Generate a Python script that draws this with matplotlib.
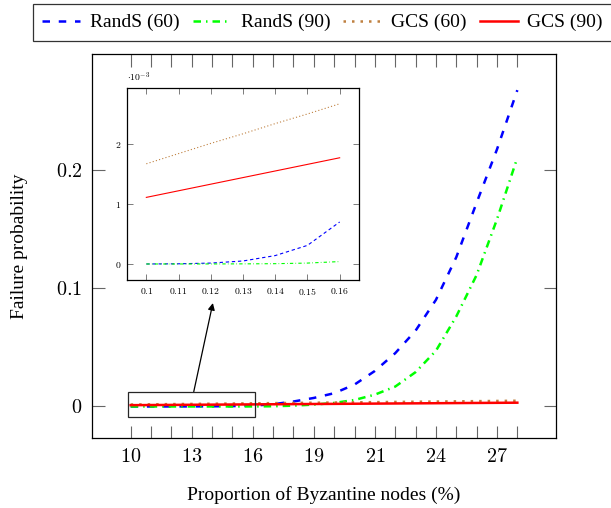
import numpy as np
import matplotlib
matplotlib.use('Agg')
import matplotlib.pyplot as plt
from matplotlib.patches import Rectangle

plt.rcParams['font.family'] = ['Liberation Serif', 'DejaVu Serif']
plt.rcParams['mathtext.fontset'] = 'cm'

# proportion of byzantine nodes, one point per tick
x = [10, 11, 12, 13, 14, 15, 16, 17, 18, 19, 20, 21, 22, 23, 24, 25, 26, 27, 28, 29]
xtick_pos = [10, 13, 16, 19, 22, 25, 28]
xtick_lab = ['10', '13', '16', '19', '21', '24', '27']

rands60 = [0.0, 0.000003, 0.000015, 0.00005, 0.00014, 0.00031, 0.0007, 0.0019, 0.0042, 0.0072,
           0.0112, 0.0185, 0.030, 0.045, 0.064, 0.090, 0.126, 0.172, 0.217, 0.267]
rands90 = [0.0, 0.0, 0.0000005, 0.000002, 0.000005, 0.000015, 0.00004, 0.0002, 0.0007, 0.0016,
           0.0030, 0.0055, 0.0100, 0.0168, 0.029, 0.047, 0.076, 0.111, 0.158, 0.210]
gcs60 = [0.00167, 0.00184, 0.00201, 0.00217, 0.00234, 0.00250, 0.00267, 0.00284, 0.00300, 0.00317,
         0.00334, 0.00350, 0.00367, 0.00384, 0.00400, 0.00417, 0.00434, 0.00450, 0.00467, 0.00484]
gcs90 = [0.00111, 0.00122, 0.00133, 0.00144, 0.00155, 0.00166, 0.00177, 0.00188, 0.00199, 0.00210,
         0.00221, 0.00232, 0.00243, 0.00254, 0.00265, 0.00276, 0.00287, 0.00298, 0.00309, 0.00320]

# inset: first 7 points, x as fraction
x_in = [0.10, 0.11, 0.12, 0.13, 0.14, 0.15, 0.16]
n_in = len(x_in)

blue = '#0000ff'
green = '#00ff00'
brown = '#bf8040'
red = '#ff0000'

fig = plt.figure(figsize=(6.11, 5.08), dpi=100)
ax = fig.add_axes([92/611, 1-438/508, 464/611, 384/508])

lw = 1.8
l1, = ax.plot(x, rands60, color=blue, lw=lw, dashes=(3, 3.5), label='RandS (60)')
l2, = ax.plot(x, rands90, color=green, lw=lw, dashes=(3, 2, 0.6, 2), label='RandS (90)')
l3, = ax.plot(x, gcs60, color=brown, lw=lw, dashes=(1, 2.4), label='GCS (60)')
l4, = ax.plot(x, gcs90, color=red, lw=lw, label='GCS (90)')

ax.set_xlim(8.1, 30.9)
ax.set_ylim(-0.0266, 0.2975)
ax.set_xticks(xtick_pos)
ax.set_xticklabels(['$%s$' % s for s in xtick_lab])
ax.set_xticks(x, minor=True)
ax.set_yticks([0, 0.1, 0.2])
ax.set_yticklabels(['$0$', '$0.1$', '$0.2$'])
ax.tick_params(which='both', direction='in', top=True, right=True, length=9, width=0.8,
               color='0.4', labelsize=14.5, pad=7)
for s in ax.spines.values():
    s.set_linewidth(0.9)

ax.set_xlabel('Proportion of Byzantine nodes (%)', fontsize=14, labelpad=14)
ax.set_ylabel('Failure probability', fontsize=14, labelpad=20)

# zoom box + arrow
ax.add_patch(Rectangle((9.88, -0.0086), 16.1-9.88, 0.0125+0.0086, fill=False, ec='0.15', lw=0.9, zorder=5))
ax.annotate('', xy=(14.04, 0.0873), xytext=(13.1, 0.0125),
            arrowprops=dict(arrowstyle='-|>', color='black', lw=0.9, mutation_scale=10, shrinkA=0, shrinkB=0))

# inset
axin = fig.add_axes([127/611, 1-280/508, 232/611, 192/508])
lwi = 0.8
axin.plot(x_in, rands60[:n_in], color=blue, lw=lwi, dashes=(3, 2.5))
axin.plot(x_in, rands90[:n_in], color=green, lw=lwi, dashes=(3, 2, 0.6, 2))
axin.plot(x_in, gcs60[:n_in], color=brown, lw=lwi, dashes=(1, 2))
axin.plot(x_in, gcs90[:n_in], color=red, lw=lwi)
axin.set_xlim(0.094, 0.166)
axin.set_ylim(-0.267e-3, 2.933e-3)
axin.set_xticks(x_in)
axin.set_xticklabels(['$%s$' % ('%.2f' % v).rstrip('0') for v in x_in])
axin.set_yticks([0, 1e-3, 2e-3])
axin.set_yticklabels(['$0$', '$1$', '$2$'])
axin.tick_params(which='both', direction='in', top=True, right=True, length=4, width=0.6,
                 color='0.4', labelsize=7, pad=4)
for s in axin.spines.values():
    s.set_linewidth(0.9)
axin.text(0.0, 1.02, r'$\cdot 10^{-3}$', transform=axin.transAxes, fontsize=7, ha='left', va='bottom')

leg = fig.legend(handles=[l1, l2, l3, l4], loc='upper left', bbox_to_anchor=(32.7/611, 1-4/508),
                 ncol=4, fontsize=14, frameon=True, fancybox=False, edgecolor='black',
                 handlelength=1.95, handletextpad=0.5, columnspacing=0.68, borderpad=0.5,
                 borderaxespad=0)
leg.get_frame().set_linewidth(0.9)

fig.savefig('out.png', dpi=100)
